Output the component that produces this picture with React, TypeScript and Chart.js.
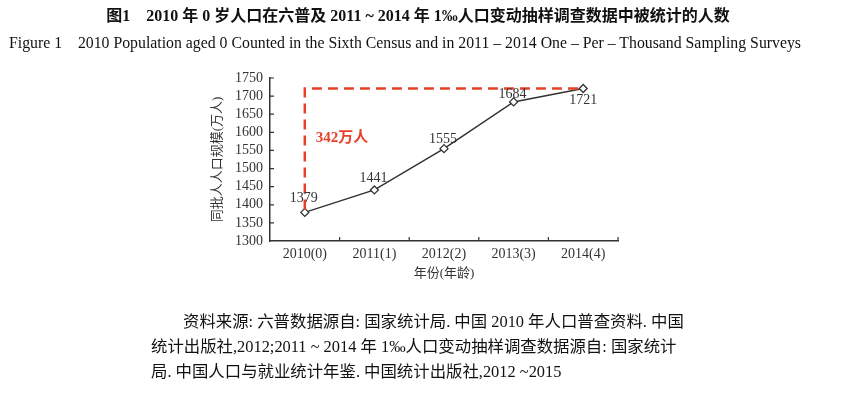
import React, { useEffect, useRef } from "react";
import { Chart, registerables } from "chart.js";

Chart.register(...registerables);

const categories = ["2010(0)", "2011(1)", "2012(2)", "2013(3)", "2014(4)"];
const population = [1379, 1441, 1555, 1684, 1721];
const labelBelow = [false, false, false, false, true];
const labelGap = [7, 5, 2, 1, 5];
const yMin = 1300;
const yMax = 1750;
const yStep = 50;
const diffText = "342万人";
const diffTextValue = 1584;

const titleCn = "图1　2010 年 0 岁人口在六普及 2011 ~ 2014 年 1‰人口变动抽样调查数据中被统计的人数";
const titleEn = "Figure 1　2010 Population aged 0 Counted in the Sixth Census and in 2011 – 2014 One – Per – Thousand Sampling Surveys";
const sourceLines = [
  "资料来源: 六普数据源自: 国家统计局. 中国 2010 年人口普查资料. 中国",
  "统计出版社,2012;2011 ~ 2014 年 1‰人口变动抽样调查数据源自: 国家统计",
  "局. 中国人口与就业统计年鉴. 中国统计出版社,2012 ~2015",
];

const SERIF = '"Liberation Serif", "DejaVu Serif", "Noto Sans CJK SC", serif';

const overlayPlugin = {
  id: "overlay",
  afterDatasetsDraw(chart: any) {
    const ctx = chart.ctx;
    const x = chart.scales.x;
    const y = chart.scales.y;
    const area = chart.chartArea;
    ctx.save();
    // inner ticks on axes
    ctx.strokeStyle = "#333";
    ctx.lineWidth = 1.2;
    ctx.beginPath();
    for (let i = 1; i <= categories.length; i++) {
      const px =
        i < categories.length
          ? (x.getPixelForValue(i - 1) + x.getPixelForValue(i)) / 2
          : area.right;
      ctx.moveTo(px, area.bottom);
      ctx.lineTo(px, area.bottom - 4);
    }
    for (let v = yMin + yStep; v <= yMax; v += yStep) {
      const py = y.getPixelForValue(v);
      ctx.moveTo(area.left, py);
      ctx.lineTo(area.left + 4, py);
    }
    ctx.stroke();

    // red dashed annotation
    const first = population[0];
    const last = population[population.length - 1];
    const x0 = x.getPixelForValue(0);
    const x1 = x.getPixelForValue(population.length - 1);
    const yTop = y.getPixelForValue(last);
    const yBot = y.getPixelForValue(first) - 3;
    ctx.strokeStyle = "#e8402a";
    ctx.lineWidth = 2.5;
    ctx.setLineDash([10, 6]);
    ctx.beginPath();
    ctx.moveTo(x0, yBot);
    ctx.lineTo(x0, yTop);
    ctx.lineTo(x1 - 4, yTop);
    ctx.stroke();
    ctx.setLineDash([]);

    ctx.fillStyle = "#e8402a";
    ctx.font = 'bold 15px "Liberation Serif", "Noto Sans CJK SC", serif';
    ctx.textAlign = "left";
    ctx.textBaseline = "middle";
    ctx.fillText(diffText, x0 + 11, y.getPixelForValue(diffTextValue));

    // data labels
    ctx.fillStyle = "#333";
    ctx.font = "14px " + SERIF;
    ctx.textAlign = "center";
    const meta = chart.getDatasetMeta(0);
    meta.data.forEach((pt: any, i: number) => {
      if (labelBelow[i]) {
        ctx.textBaseline = "top";
        ctx.fillText(String(population[i]), pt.x, pt.y + labelGap[i]);
      } else {
        ctx.textBaseline = "bottom";
        ctx.fillText(String(population[i]), pt.x - 1, pt.y - labelGap[i]);
      }
    });
    ctx.restore();
  },
};

export default function App() {
  const ref = useRef<HTMLCanvasElement | null>(null);
  useEffect(() => {
    if (!ref.current) return;
    const chart = new Chart(ref.current, {
      type: "line",
      data: {
        labels: categories,
        datasets: [
          {
            data: population,
            borderColor: "#333",
            borderWidth: 1.5,
            pointStyle: "rectRot",
            pointRadius: 4,
            pointBackgroundColor: "#fff",
            pointBorderColor: "#333",
            pointBorderWidth: 1.3,
            tension: 0,
          },
        ],
      },
      options: {
        animation: false,
        responsive: false,
        devicePixelRatio: 1,
        layout: { padding: { left: 210, right: 227, top: 78, bottom: 117 } },
        plugins: { legend: { display: false }, tooltip: { enabled: false } },
        scales: {
          x: {
            offset: true,
            grid: { display: false, drawTicks: false },
            border: { display: true, color: "#333", width: 1.5 },
            ticks: { color: "#333", font: { family: SERIF, size: 14 }, padding: 5 },
            title: {
              display: true,
              text: "年份(年龄)",
              color: "#333",
              font: { family: SERIF, size: 13 },
              padding: { top: 0, bottom: 0 },
            },
            afterFit: (s: any) => {
              s.height = 40;
            },
          },
          y: {
            min: yMin,
            max: yMax,
            grid: { display: false, drawTicks: false },
            border: { display: true, color: "#333", width: 1.5 },
            ticks: {
              stepSize: yStep,
              autoSkip: false,
              color: "#333",
              font: { family: SERIF, size: 14 },
              padding: 7,
              callback: (v: any) => String(v),
            },
            title: {
              display: true,
              text: "同批人人口规模(万人)",
              color: "#333",
              font: { family: SERIF, size: 13 },
              padding: { top: 0, bottom: 0 },
            },
            afterFit: (s: any) => {
              s.width = 60;
            },
          },
        },
      },
      plugins: [overlayPlugin],
    });
    return () => chart.destroy();
  }, []);

  return (
    <div style={{ position: "fixed", left: 0, top: 0, width: 845, height: 398, background: "#fff", overflow: "hidden" }}>
      <canvas ref={ref} width={845} height={398} style={{ position: "absolute", left: 0, top: 0, width: 845, height: 398 }} />
      <div
        style={{
          position: "absolute",
          left: 0,
          width: 836,
          top: 6,
          textAlign: "center",
          fontFamily: SERIF,
          fontWeight: "bold",
          fontSize: 16,
          lineHeight: "20px",
          color: "#111",
          whiteSpace: "nowrap",
        }}
      >
        {titleCn}
      </div>
      <div
        style={{
          position: "absolute",
          left: 0,
          width: 810,
          top: 33,
          textAlign: "center",
          fontFamily: SERIF,
          fontSize: 15.8,
          lineHeight: "20px",
          color: "#111",
          whiteSpace: "nowrap",
        }}
      >
        {titleEn}
      </div>
      {sourceLines.map((t, i) => (
        <div
          key={i}
          style={{
            position: "absolute",
            left: i === 0 ? 183 : 151,
            top: 312 + i * 25,
            fontFamily: SERIF,
            fontSize: 16.4,
            lineHeight: "20px",
            color: "#111",
            whiteSpace: "nowrap",
          }}
        >
          {t}
        </div>
      ))}
    </div>
  );
}
